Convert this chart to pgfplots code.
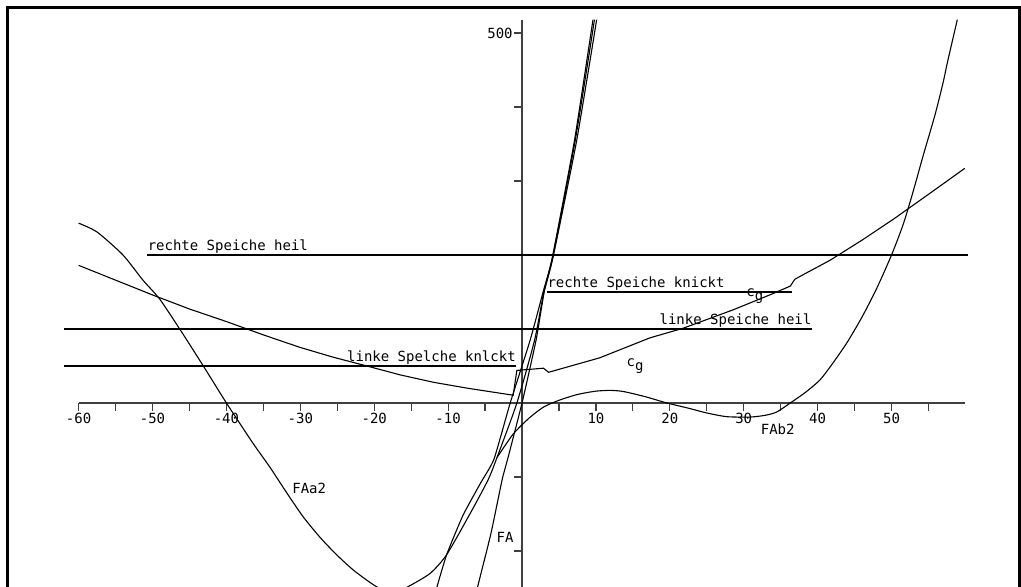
\documentclass[border=0pt]{standalone}
\usepackage{fontspec}
\setmainfont{DejaVu Sans Mono}
\usepackage{pgfplots}
\pgfplotsset{compat=1.18}
\begin{document}
\begin{tikzpicture}[font=\fontsize{7}{8}\selectfont]
\begin{axis}[
  x=3.695pt, y=0.37pt,
  axis lines=middle,
  axis line style={-, line width=0.7pt, black!75},
  xmin=-60, xmax=60, ymin=-252, ymax=518,
  clip=false,
  xtick={-60,-50,-40,-30,-20,-10,10,20,30,40,50},
  xticklabels={-60,-50,-40,-30,-20,-10,10,20,30,40,50},
  minor xtick={-55,-45,-35,-25,-15,-5,5,15,25,35,45,55},
  ytick={-200,-100,100,200,300,400,500},
  yticklabels={,,,,,,500},
  tick align=center,
  major tick length=4pt, minor tick length=4pt,
  xtick style={line width=0.6pt, black!75, yshift=-2pt},
  ytick style={line width=0.6pt, black!75, xshift=-2pt},
  xticklabel style={anchor=north, inner sep=0pt, yshift=-3pt},
  yticklabel style={anchor=east, inner sep=0pt, xshift=-2.5pt},
  c/.style={black, solid, line width=0.55pt, mark=none},
]
% horizontal threshold lines
\addplot[c] coordinates {(-50.7,200) (60.4,200)};
\addplot[c] coordinates {(3.4,150) (36.5,150)};
\addplot[c] coordinates {(-62,100) (39.2,100)};
\addplot[c] coordinates {(-62,50) (-0.8,50)};
% cg
\addplot[c] coordinates {
(-60,186) (-55,166) (-50,146) (-45,127) (-40,110) (-35,92) (-30,75)
(-25.6,62) (-21,50) (-16.5,38) (-12,28) (-7.4,20) (-1.2,10.5)
(-0.7,44) (2.9,47) (3.6,41.5) (10.5,61) (17.3,88) (21.8,101)
(28.6,126) (34,148) (36.3,158) (36.9,167) (37.6,171) (41.7,193)
(46,220) (50.2,248) (55,282) (59.9,317)};
% FAa2
\addplot[c, smooth, tension=0.4] coordinates {
(-60,243) (-57.5,231) (-54,200) (-51.3,166) (-49,140) (-46,95) (-43,48)
(-40,0) (-36.4,-54.5) (-34.1,-87) (-31.8,-122) (-29.6,-154) (-27.3,-182)
(-25.1,-205) (-22.8,-226) (-19.9,-247) (-17.5,-258) (-15.2,-247)
(-12.4,-230) (-10.2,-205) (-7,-149) (-4.6,-104) (-3.4,-74) (-0.7,0)
(1.7,85) (2.95,150) (4.15,197) (7.2,355) (9.8,518)};
% FAb2
\addplot[c, smooth, tension=0.4] coordinates {
(-3.4,-74) (-1.2,-42) (1,-20) (3,-5) (5.1,4) (7.5,11.5) (10,16)
(12,17) (13.7,15.5) (16.5,9) (19.6,0) (22.5,-7) (25,-13.5)
(27.7,-18.5) (30.9,-19) (33,-16.5) (34.5,-12) (36.3,0) (38.3,14)
(40.3,31) (42,53) (44,82) (46,116) (48,155) (50,200) (51.6,242)
(52.9,285) (54.3,335) (55.9,390) (57,434) (57.6,462) (58.9,518)};
% steep line
\addplot[c, smooth, tension=0.3] coordinates {
(-11.9,-262) (-11.5,-248) (-10.2,-205) (-8,-152) (-5.6,-108) (-3.8,-76)
(-1.6,0) (1.1,85) (2.85,150) (4.1,197) (7.1,355) (9.6,518)};
% FA
\addplot[c, smooth, tension=0.3] coordinates {
(-6.3,-262) (-6,-248) (-4.2,-176) (-2.7,-104) (-1.9,-74)
(0,0) (1.9,85) (3.0,150) (4.2,197) (7.4,355) (10.1,518)};
% labels
\node[anchor=south west, inner sep=0pt, yshift=0.6pt] at (axis cs:-50.7,200) {rechte Speiche heil};
\node[anchor=south west, inner sep=0pt, yshift=0.6pt] at (axis cs:3.4,150) {rechte Speiche knickt};
\node[anchor=south east, inner sep=0pt, yshift=0.6pt] at (axis cs:39.2,100) {linke Speiche heil};
\node[anchor=south east, inner sep=0pt, yshift=0.6pt] at (axis cs:-0.8,50) {linke Spelche knlckt};
\node at (axis cs:15.3,50) {c\raisebox{-2pt}{g}};
\node at (axis cs:31.5,145) {c\raisebox{-2pt}{g}};
\node at (axis cs:34.6,-35) {FAb2};
\node at (axis cs:-28.8,-115) {FAa2};
\node at (axis cs:-2.3,-182) {FA};
\coordinate (bbl) at (axis cs:-70.64,-248.6);
\coordinate (btr) at (axis cs:67.52,544.6);
\coordinate (fl) at (axis cs:-69.56,-270);
\coordinate (ftr) at (axis cs:67.25,533.8);
\end{axis}
\pgfresetboundingbox
\path[use as bounding box] (bbl) rectangle (btr);
\draw[line width=1.5pt] (fl) |- (ftr) -- (ftr |- fl);
\end{tikzpicture}
\end{document}
